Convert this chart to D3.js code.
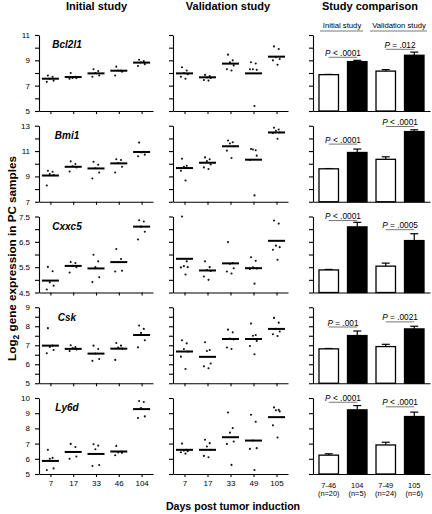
<!DOCTYPE html>
<html><head><meta charset="utf-8">
<script src="https://cdn.jsdelivr.net/npm/d3@7"></script>
<style>body{margin:0;background:#fff}svg{display:block;font-family:"Liberation Sans",Arial,Helvetica,sans-serif}text{fill:#000}</style>
</head><body><svg id="c" width="432" height="514"></svg>
<script>
// ---------------- DATA ----------------
const genes = ["Bcl2l1", "Bmi1", "Cxxc5", "Csk", "Ly6d"];
const initialDays = ["7", "17", "33", "46", "104"];
const validationDays = ["7", "17", "33", "49", "105"];
const yDomains = [[5, 11], [7, 13], [4.5, 7.5], [5, 9], [5, 10]];
const tickSteps = [1, 1, 0.5, 0.5, 1];
const labelSteps = [2, 2, 1, 1, 1];

// Initial study individual samples (per gene, per day group)
const initialBcl2l1 = [[7.8,7.7,7.55,7.4,7.3],[8.0,7.7,7.6,7.6,7.55],[8.3,8.15,8.0,7.8,7.7],[8.5,8.2,8.2,8.1,7.8],[9.05,8.95,8.85,8.7,8.55]];
const initialBmi1   = [[9.45,9.37,9.18,9.1,8.28],[10.19,9.98,9.8,9.71,9.39],[10.16,9.92,9.65,9.31,8.84],[10.35,10.3,10.05,9.76,9.31],[11.67,10.95,10.9,10.72,10.59]];
const initialCxxc5  = [[5.51,5.34,4.9,4.77,4.62],[5.7,5.66,5.55,5.5,5.29],[5.99,5.73,5.5,5.1,4.91],[6.22,5.82,5.7,5.36,5.33],[7.35,7.3,7.1,6.9,6.59]];
const initialCsk    = [[7.9,6.98,6.91,6.75,6.58],[7.0,6.9,6.85,6.78,6.7],[6.98,6.8,6.56,6.28,6.18],[7.12,6.98,6.88,6.82,6.23],[8.04,7.86,7.65,7.26,6.89]];
const initialLy6d   = [[6.59,6.06,6.0,5.37,5.26],[6.98,6.78,6.45,6.15,6.0],[6.96,6.87,6.63,5.59,5.53],[6.85,6.48,6.42,6.39,6.23],[9.8,9.74,9.34,8.79,8.68]];
const initialMeans = [
  [7.55,7.68,7.97,8.18,8.82],
  [9.07,9.76,9.63,10.03,10.93],
  [4.97,5.55,5.45,5.7,7.1],
  [6.98,6.81,6.56,6.82,7.54],
  [5.86,6.45,6.32,6.48,9.27]
];

// Validation study individual samples
const validationBcl2l1 = [[8.45,8.2,8.0,7.9,7.7,7.55],[7.85,7.75,7.65,7.6,7.45,7.4],[9.45,9.0,8.85,8.6,8.3,8.2],[8.85,8.75,8.3,8.25,8.3,5.4],[10.1,9.9,9.25,9.1,9.0,8.65]];
const validationBmi1   = [[10.4,9.84,9.76,9.66,9.45,8.68],[10.5,10.35,10.21,9.95,9.71,9.58],[11.83,11.7,11.6,11.38,11.04,10.45],[11.17,11.06,11.12,10.64,10.3,7.5],[12.84,12.7,12.6,12.47,12.42,11.97]];
const validationCxxc5  = [[7.5,5.73,5.54,5.5,5.49,5.21],[5.73,5.5,5.39,5.35,5.13,5.0],[6.49,5.66,5.63,5.46,5.33,5.25],[5.89,5.75,5.49,5.45,5.43,4.85],[7.34,7.22,6.35,6.29,6.19,5.79]];
const validationCsk    = [[7.26,7.1,6.8,6.67,6.4,5.75],[7.16,6.75,6.7,6.04,5.89,5.79],[7.82,7.68,7.35,7.3,6.88,6.8],[8.14,7.54,7.5,7.23,6.96,6.53],[8.44,8.19,7.86,7.72,7.58,7.49]];
const validationLy6d   = [[7.0,6.59,6.54,6.5,6.43,6.34],[7.25,7.03,6.81,6.59,6.19,6.1],[9.05,8.02,7.72,7.14,6.98,5.6],[8.9,8.44,7.2,6.7,6.65,5.26],[9.38,9.22,9.19,9.12,8.2,7.4]];
const validationMeans = [
  [7.97,7.66,8.74,7.97,9.29],
  [9.66,10.08,11.38,10.32,12.47],
  [5.83,5.37,5.65,5.46,6.54],
  [6.67,6.39,7.33,7.33,7.86],
  [6.59,6.59,7.42,7.2,8.74]
];

// Study comparison bars: [initial 7-46, initial 104, validation 7-49, validation 105]
const barGroups = ["7-46", "104", "7-49", "105"];
const barNs = ["(n=20)", "(n=5)", "(n=24)", "(n=6)"];
const barMeans = [
  [7.87, 8.9, 8.15, 9.4],
  [9.6, 10.89, 10.35, 12.54],
  [5.39, 7.09, 5.54, 6.55],
  [6.81, 7.51, 6.93, 7.86],
  [6.24, 9.22, 6.91, 8.78]
];
const barErrors = [
  [0.02, 0.1, 0.12, 0.25],
  [0.02, 0.27, 0.2, 0.14],
  [0.02, 0.18, 0.12, 0.27],
  [0.02, 0.24, 0.12, 0.14],
  [0.09, 0.28, 0.18, 0.29]
];
const pInitial = ["< .0001", "< .0001", "< .0001", "= .001", "< .0001"];
const pValidation = ["= .012", "< .0001", "= .0005", "= .0021", "< .0001"];
const pLineInitial = [9.24, 11.55, 7.34, 7.96, 9.72];
const pLineValidation = [9.87, 12.94, 6.98, 8.23, 9.42];

const initialPoints = [initialBcl2l1, initialBmi1, initialCxxc5, initialCsk, initialLy6d];
const validationPoints = [validationBcl2l1, validationBmi1, validationCxxc5, validationCsk, validationLy6d];

// ---------------- LAYOUT ----------------
const svg = d3.select("#c");
const FONT = "Liberation Sans, Arial, Helvetica, sans-serif";
const col1 = [39, 153], col2 = [173, 288], col3 = [313, 430];
const rowTop = i => 35 + i * 90.75;
const rowH = 76;
const jitter = [-2.5, 2.2, -0.6, 3.2, -3.6, 1.0];

function styleAxis(sel) {
  sel.attr("font-family", FONT).attr("font-size", 8);
  sel.selectAll("path,line").attr("stroke", "#000").attr("stroke-width", 1.1);
  sel.selectAll("text").attr("fill", "#000");
}

function yAxisFor(gi, y, labels) {
  const [lo, hi] = yDomains[gi];
  const ticks = d3.range(lo, hi + 1e-6, tickSteps[gi]);
  const ls = labelSteps[gi];
  return d3.axisLeft(y).tickValues(ticks).tickSize(4).tickSizeOuter(0).tickPadding(5)
    .tickFormat(v => {
      if (!labels) return "";
      const k = (v - lo) / ls;
      return Math.abs(k - Math.round(k)) < 1e-6 ? String(+v.toFixed(1)) : "";
    });
}

function scatterPanel(gi, range, days, pts, means, labels, last) {
  const top = rowTop(gi);
  const y = d3.scaleLinear().domain(yDomains[gi]).range([top + rowH, top]);
  const x = d3.scalePoint().domain(days).range(range).padding(0.5);
  const g = svg.append("g");
  g.append("g").attr("transform", `translate(${range[0]},0)`).call(yAxisFor(gi, y, labels)).call(styleAxis);
  g.append("g").attr("transform", `translate(0,${top + rowH})`)
    .call(d3.axisBottom(x).tickSize(3).tickSizeOuter(0).tickPadding(3).tickFormat(d => last ? d : ""))
    .call(styleAxis);
  days.forEach((d, di) => {
    g.selectAll(null).data(pts[di]).enter().append("circle")
      .attr("cx", (v, k) => x(d) + jitter[k % jitter.length])
      .attr("cy", v => y(v)).attr("r", 1.05).attr("fill", "#111");
    g.append("line").attr("x1", x(d) - 8.5).attr("x2", x(d) + 8.5)
      .attr("y1", y(means[di])).attr("y2", y(means[di]))
      .attr("stroke", "#000").attr("stroke-width", 2);
  });
}

function barPanel(gi, last) {
  const top = rowTop(gi);
  const [lo] = yDomains[gi];
  const y = d3.scaleLinear().domain(yDomains[gi]).range([top + rowH, top]);
  const x = d3.scaleBand().domain(barGroups).range(col3).paddingInner(0.316).paddingOuter(0.21);
  const bw = x.bandwidth();
  const g = svg.append("g");
  barGroups.forEach((b, i) => {
    const cx = x(b) + bw / 2, m = barMeans[gi][i], e = barErrors[gi][i];
    g.append("line").attr("x1", cx).attr("x2", cx).attr("y1", y(m)).attr("y2", y(m + e))
      .attr("stroke", "#000").attr("stroke-width", 1.2);
    g.append("line").attr("x1", cx - 4).attr("x2", cx + 4).attr("y1", y(m + e)).attr("y2", y(m + e))
      .attr("stroke", "#000").attr("stroke-width", 1.2);
  });
  g.selectAll(null).data(barGroups).enter().append("rect")
    .attr("x", b => x(b)).attr("width", bw)
    .attr("y", (b, i) => y(barMeans[gi][i]))
    .attr("height", (b, i) => y(lo) - y(barMeans[gi][i]))
    .attr("fill", (b, i) => i % 2 ? "#000" : "#fff")
    .attr("stroke", "#000").attr("stroke-width", 1.3);
  g.append("g").attr("transform", `translate(${col3[0]},0)`).call(yAxisFor(gi, y, false)).call(styleAxis);
  g.append("g").attr("transform", `translate(0,${top + rowH})`)
    .call(d3.axisBottom(x).tickSize(0).tickSizeOuter(0).tickFormat(() => ""))
    .call(styleAxis);
  [[0, pInitial[gi], pLineInitial[gi]], [2, pValidation[gi], pLineValidation[gi]]].forEach(([i, p, ly]) => {
    const xa = x(barGroups[i]) + bw / 2, xb = x(barGroups[i + 1]) + bw / 2;
    const yy = y(ly);
    g.append("line").attr("x1", xa).attr("x2", xb).attr("y1", yy).attr("y2", yy)
      .attr("stroke", "#555").attr("stroke-width", 0.8);
    const t = g.append("text").attr("x", (xa + xb) / 2).attr("y", yy - 1.5).attr("fill", "#000")
      .attr("text-anchor", "middle").attr("font-family", FONT).attr("font-size", 8.3);
    t.append("tspan").attr("font-style", "italic").text("P");
    t.append("tspan").text(" " + p);
  });
  if (last) {
    barGroups.forEach((b, i) => {
      const cx = x(b) + bw / 2;
      g.append("text").attr("x", cx).attr("y", 487.5).attr("text-anchor", "middle").attr("fill", "#000")
        .attr("font-family", FONT).attr("font-size", 7.4).text(b);
      g.append("text").attr("x", cx).attr("y", 495.5).attr("text-anchor", "middle").attr("fill", "#000")
        .attr("font-family", FONT).attr("font-size", 7.4).text(barNs[i]);
    });
  }
}

genes.forEach((gene, gi) => {
  const last = gi === genes.length - 1;
  scatterPanel(gi, col1, initialDays, initialPoints[gi], initialMeans[gi], true, last);
  scatterPanel(gi, col2, validationDays, validationPoints[gi], validationMeans[gi], false, last);
  barPanel(gi, last);
  svg.append("text").attr("x", 67).attr("y", rowTop(gi) + 13.3).attr("text-anchor", "middle")
    .attr("font-family", FONT).attr("font-size", 10).attr("font-weight", "bold").attr("fill", "#000")
    .attr("font-style", "italic").text(gene);
});

const titles = [["Initial study", 96.5], ["Validation study", 228], ["Study comparison", 370]];
titles.forEach(([t, x]) => svg.append("text").attr("x", x).attr("y", 10).attr("text-anchor", "middle")
  .attr("font-family", FONT).attr("font-size", 11).attr("font-weight", "bold").attr("fill", "#000").text(t));

[["Initial study", 342, 320, 363], ["Validation study", 399, 370, 427]].forEach(([t, x, a, b]) => {
  svg.append("text").attr("x", x).attr("y", 27.5).attr("text-anchor", "middle").attr("fill", "#222")
    .attr("font-family", FONT).attr("font-size", 7.7).text(t);
  svg.append("line").attr("x1", a).attr("x2", b).attr("y1", 31).attr("y2", 31)
    .attr("stroke", "#555").attr("stroke-width", 0.8);
});

svg.append("text").attr("x", 233).attr("y", 509.5).attr("text-anchor", "middle").attr("fill", "#000")
  .attr("font-family", FONT).attr("font-size", 10.6).attr("font-weight", "bold")
  .text("Days post tumor induction");
const yt = svg.append("text").attr("transform", "translate(16,258.5) rotate(-90)").attr("fill", "#000")
  .attr("text-anchor", "middle").attr("font-family", FONT).attr("font-size", 11.7).attr("font-weight", "bold");
yt.append("tspan").text("Log");
yt.append("tspan").attr("font-size", 8.5).attr("dy", 3).text("2");
yt.append("tspan").attr("dy", -3).text(" gene expression in PC samples");
</script>
</body></html>
